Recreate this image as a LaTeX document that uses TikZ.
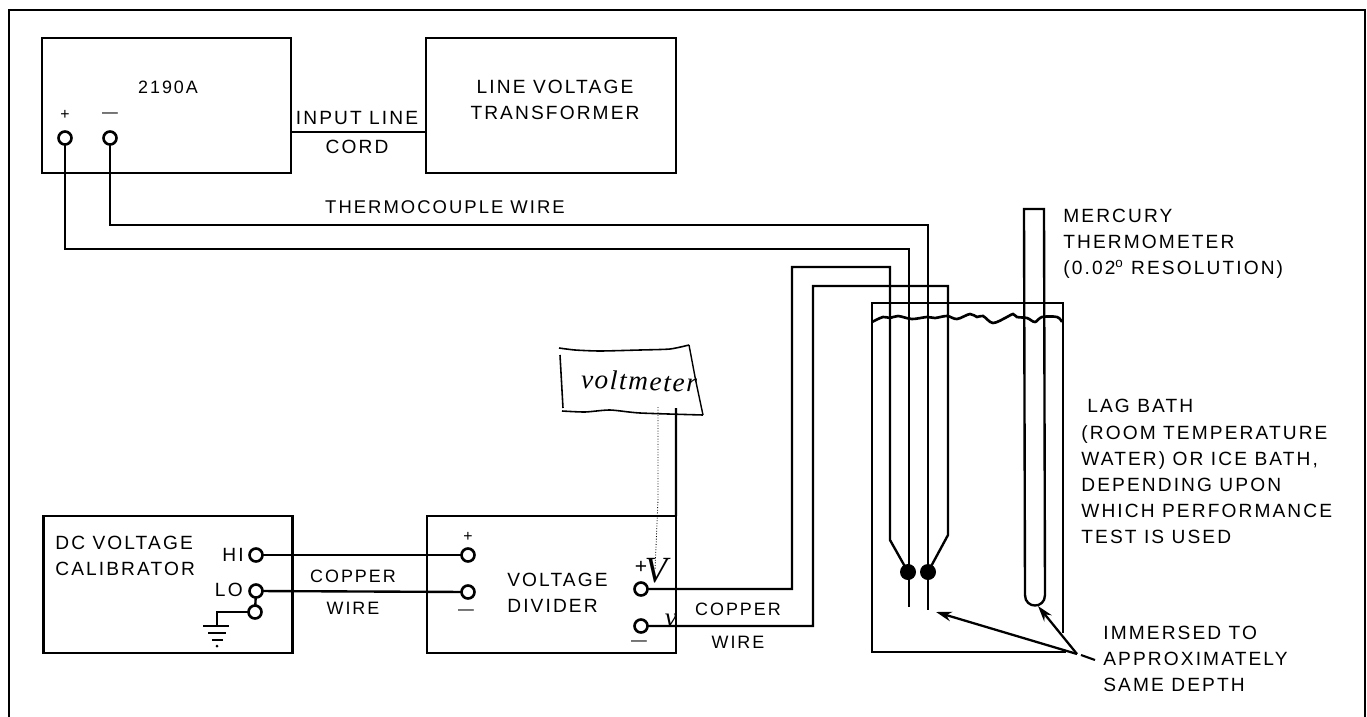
\documentclass[tikz,border=0pt]{standalone}
\usepackage{fontspec}
\setmainfont[LetterSpace=11]{Liberation Sans}
\newfontfamily\handfont[LetterSpace=6]{Liberation Serif}
\usetikzlibrary{arrows.meta}
\tikzset{
  wire/.style={line width=1.35pt},
  box/.style={draw,line width=1.35pt,inner sep=0pt,outer sep=0pt},
  terminal/.style={circle,draw,fill=white,line width=1.5pt,minimum size=0.26cm,inner sep=0pt,outer sep=0pt},
  lbl/.style={inner sep=0pt,align=left,font=\fontsize{10.9}{14.8}\selectfont},
  lblsmall/.style={inner sep=0pt,align=left,font=\fontsize{10.2}{14.8}\selectfont},
  sign/.style={inner sep=0pt,font=\fontsize{9}{9}\selectfont},
  hand/.style={inner sep=0pt,font=\handfont\itshape\fontsize{15.5}{15.5}\selectfont},
  pointer/.style={line width=1.3pt,-{Stealth[length=9pt,width=5.5pt]}}
}
\begin{document}
\begin{tikzpicture}[x=0.02cm,y=-0.02cm]
      \useasboundingbox (0,0) rectangle (1367,717);
      % outer frame
      \coordinate (FA) at (9,717);
      \coordinate (FB) at (9,10);
      \coordinate (FC) at (1365,10);
      \coordinate (FD) at (1365,717);
      \draw[line width=1.6pt] (FA) -- (FB) -- (FC) -- (FD);
      % boxes
      \node[box,minimum width=4.98cm,minimum height=2.7cm] (meter) at (166.5,105.5) {};
      \node[box,minimum width=5cm,minimum height=2.7cm] (trafo) at (551,105.5) {};
      \node[box,minimum width=4.98cm,minimum height=2.74cm] (calib) at (168,584.5) {};
      \node[box,minimum width=4.98cm,minimum height=2.74cm] (divider) at (551.5,584.5) {};
      % bends of the wires
      \coordinate (PA) at (65,249);
      \coordinate (PB) at (909,249);
      \coordinate (PC) at (909,607);
      \coordinate (MA) at (110,225);
      \coordinate (MB) at (928,225);
      \coordinate (MC) at (928,610);
      \coordinate (UA) at (792,589);
      \coordinate (UB) at (792,267);
      \coordinate (UC) at (890,267);
      \coordinate (UD) at (890,540);
      \coordinate (VA) at (813,626);
      \coordinate (VB) at (813,286);
      \coordinate (VC) at (948,286);
      \coordinate (VD) at (948,535);
      \coordinate (JL) at (908,572);
      \coordinate (JR) at (928,572);
      % terminals
      \node[terminal] (mplus) at (65,138) {};
      \node[terminal] (mminus) at (110,138) {};
      \node[terminal] (hi) at (256,555) {};
      \node[terminal] (lo) at (256,591) {};
      \node[terminal] (gnd) at (255,612) {};
      \node[terminal] (inplus) at (468,555) {};
      \node[terminal] (inminus) at (468,592) {};
      \node[terminal] (outplus) at (641,589) {};
      \node[terminal] (outminus) at (641,626) {};
      \draw[wire] (meter.east |- 0,132) -- (trafo.west |- 0,132);
      \draw[wire] (mplus) -- (PA) -- (PB) -- (PC);
      \draw[wire] (mminus) -- (MA) -- (MB) -- (MC);
      \draw[wire] (outplus) -- (UA) -- (UB) -- (UC) -- (UD) -- (JL);
      \draw[wire] (outminus) -- (VA) -- (VB) -- (VC) -- (VD) -- (JR);
      \draw[wire] (hi) -- (inplus);
      \draw[wire] (lo) -- (inminus);
      \draw[wire] (lo) -- (gnd);
      \fill (JL) circle[radius=8];
      \fill (JR) circle[radius=8];
      % ground
      \coordinate (GA) at (217,612);
      \coordinate (GB) at (217,626);
      \draw[wire] (gnd) -- (GA) -- (GB);
      \draw[wire] (203,626) -- (229,626);
      \draw[wire] (208,633) -- (226,633);
      \draw[wire] (212,640) -- (223,640);
      \fill (217,646) circle[radius=1.5];
      % bath
      \coordinate (TA) at (1063,633);
      \coordinate (TB) at (1063,303);
      \coordinate (TC) at (872,303);
      \coordinate (TD) at (872,652);
      \coordinate (TE) at (1066,652);
      \draw[wire] (TA) -- (TB) -- (TC) -- (TD) -- (TE);
      \draw[line width=1.5pt] plot[smooth,tension=0.55] coordinates {(872,322) (883,317) (890,318) (898,316) (912,319) (927,317) (935,318) (947,316) (957,319) (970,314) (977,317) (983,316) (993,323) (1007,317) (1013,314) (1017,317) (1027,318) (1035,322) (1042,317) (1057,317) (1062,322)};
      % thermometer
      \coordinate (HA) at (1024,209);
      \coordinate (HB) at (1044,209);
      \draw[wire] (1025,595) -- (HA) -- (HB) -- (1045,595) .. controls (1045,609) and (1025,609) .. (1025,595);
      % voltmeter
      \node[hand,rotate=-2] (vm) at (639,381) {voltmeter};
      \draw[line width=0.9pt] plot[smooth,tension=0.4] coordinates {(559,348) (575,350) (600,351) (640,350) (670,349) (689,345)};
      \draw[line width=0.9pt] (560,355) -- (563,408);
      \draw[line width=0.9pt] plot[smooth,tension=0.4] coordinates {(562,411) (585,412) (610,410) (640,413) (703,415)};
      \draw[line width=0.8pt] (689,345) -- (696,382) -- (703,415);
      \coordinate (DA) at (676,408);
      \coordinate (DB) at (658,407);
      \coordinate (DC) at (658,500);
      \coordinate (DD) at (655,570);
      \draw[wire] (DA) -- (divider.north east);
      \draw[line width=0.5pt,densely dotted] (DB) -- (DC) -- (DD);
      % marks at the output terminals
      \node[hand,font=\fontsize{12}{12}\selectfont] (plusmark) at (641,567) {+};
      \node[hand,font=\handfont\itshape\fontsize{21}{21}\selectfont] (vmark) at (656,571) {V};
      \node[hand] (vsmall) at (671,620) {v};
      % pointers
      \coordinate (AP) at (1077,654);
      \coordinate (AQ) at (936,612);
      \coordinate (AR) at (1038,606);
      \draw[pointer] (AP) -- (AQ);
      \draw[pointer] (AP) -- (AR);
      \draw[line width=1.2pt] (1081,655) -- (1095,660);
      % labels
      \node[lblsmall] (nmeter) at (168,87) {2190A};
      \node[sign] (splus) at (65,115) {+};
      \node[sign] (sminus) at (110,115) {---};
      \node[lbl,align=center] (ntrafo) at (555,100) {LINE VOLTAGE\\TRANSFORMER};
      \node[lbl] (ninput) at (357,118) {INPUT LINE};
      \node[lbl] (ncord) at (357,147) {CORD};
      \node[lblsmall,font=\fontsize{10.5}{14.8}\selectfont] (ntc) at (445,207) {THERMOCOUPLE WIRE};
      \node[lbl,anchor=west] (nhg) at (1063,244) {MERCURY\\THERMOMETER\\(0.02\textsuperscript{o} RESOLUTION)};
      \node[lbl,anchor=west] (nlag) at (1087,406) {LAG BATH};
      \node[lbl,anchor=west] (nbath) at (1081,485) {(ROOM TEMPERATURE\\WATER) OR ICE BATH,\\DEPENDING UPON\\WHICH PERFORMANCE\\TEST IS USED};
      \node[lbl,anchor=west] (ncal) at (55,556) {DC VOLTAGE\\CALIBRATOR};
      \node[lbl,anchor=east] (nhi) at (244,555) {HI};
      \node[lbl,anchor=east] (nlo) at (243,590) {LO};
      \node[lblsmall] (ncopa) at (353,576) {COPPER};
      \node[lblsmall] (nwira) at (353,608) {WIRE};
      \node[lbl,anchor=west] (ndiv) at (507,593) {VOLTAGE\\DIVIDER};
      \node[sign] (dplus) at (468,537) {+};
      \node[sign] (dminus) at (466,612) {---};
      \node[sign] (ominus) at (639,643) {---};
      \node[lblsmall] (ncopb) at (738,609) {COPPER};
      \node[lblsmall] (nwirb) at (738,642) {WIRE};
      \node[lbl,anchor=west] (nimm) at (1103,659) {IMMERSED TO\\APPROXIMATELY\\SAME DEPTH};
    \end{tikzpicture}
\end{document}
